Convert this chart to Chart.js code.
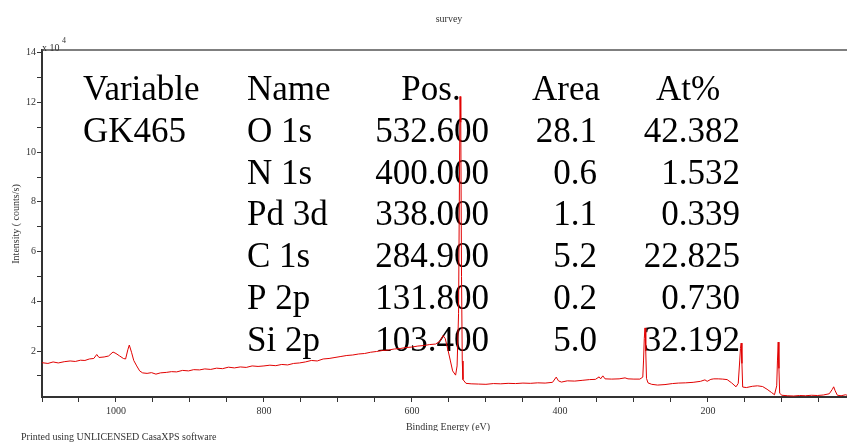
<!DOCTYPE html>
<html>
<head>
<meta charset="utf-8">
<script src="https://cdn.jsdelivr.net/npm/chart.js@4"></script>
<style>
  body { margin: 0; background: #fff; }
  #wrap { width: 847px; height: 446px; }
</style>
</head>
<body>
<div id="wrap"><canvas id="myChart" width="847" height="446"></canvas></div>
<script>
// survey spectrum, binding energy (eV) vs intensity (x 10^4 counts/s)
const energia = [1100,1092,1085,1078,1070,1062,1055,1048,1042,1036,1030,1026,1023,1016,1010,1004,1000,995,990,987,
  984,982,979,976,972,968,964,958,952,946,940,932,925,918,910,902,895,887,880,872,
  864,856,848,840,832,824,816,808,800,792,784,776,768,760,752,744,736,728,720,712,
  704,696,688,680,672,664,656,648,640,632,624,616,608,600,592,584,576,568,562,558,
  555,551,548,545,541,539,537,536,535,534,533,532,531,527,520,510,500,490,480,470,
  460,450,440,430,420,410,405,402,398,390,380,370,360,352,347,345,342,339,330,320,
  312,308,300,292,288,287,286,285,284,283,281,276,268,258,248,240,230,220,210,204,
  201,196,192,186,180,174,168,162,159,157,156,155,154,153,148,140,133,126,120,114,
  110,107,106,105,104,103,100,92,84,76,68,60,52,44,36,32,30,28,25,20,14,12];
const intensidad = [1.53,1.50,1.56,1.52,1.57,1.60,1.58,1.63,1.62,1.68,1.70,1.86,1.74,1.76,1.80,1.96,1.90,1.80,1.70,1.68,
  2.05,2.24,1.95,1.62,1.40,1.20,1.12,1.10,1.13,1.07,1.12,1.14,1.17,1.16,1.22,1.20,1.25,1.24,1.28,1.26,
  1.31,1.29,1.35,1.32,1.36,1.34,1.40,1.38,1.40,1.43,1.41,1.46,1.44,1.50,1.52,1.56,1.62,1.60,1.68,1.70,
  1.74,1.78,1.82,1.84,1.88,1.90,1.95,1.98,2.02,2.04,2.08,2.10,2.14,2.16,2.20,2.22,2.26,2.28,2.40,2.62,
  2.50,2.00,1.60,1.20,1.03,1.40,3.50,8.00,12.24,11.20,5.00,1.60,0.85,0.70,0.68,0.67,0.66,0.69,0.68,0.70,
  0.69,0.71,0.70,0.72,0.71,0.74,0.95,0.80,0.75,0.80,0.79,0.82,0.85,0.86,0.96,0.88,1.00,0.88,0.87,0.88,
  0.92,0.88,0.87,0.87,0.95,1.60,2.50,2.93,2.00,0.90,0.72,0.66,0.63,0.65,0.69,0.71,0.72,0.74,0.78,0.84,
  0.78,0.86,0.88,0.88,0.87,0.85,0.72,0.56,0.70,1.60,2.10,2.32,1.50,0.55,0.53,0.58,0.60,0.57,0.46,0.33,
  0.24,0.60,1.60,2.36,1.30,0.30,0.22,0.20,0.19,0.21,0.20,0.22,0.21,0.23,0.28,0.45,0.56,0.40,0.22,0.20,0.24,0.22];

const xTicks = [1100,1050,1000,950,900,850,800,750,700,650,600,550,500,450,400,350,300,250,200,150,100,50];
const yTicks = [1,2,3,4,5,6,7,8,9,10,11,12,13,14];

// tabla de cuantificacion
const nombres = ["O 1s", "N 1s", "Pd 3d", "C 1s", "P 2p", "Si 2p"];
const posiciones = ["532.600", "400.000", "338.000", "284.900", "131.800", "103.400"];
const areas = ["28.1", "0.6", "1.1", "5.2", "0.2", "5.0"];
const atomico = ["42.382", "1.532", "0.339", "22.825", "0.730", "32.192"];

const serif = "'Liberation Serif', 'Times New Roman', serif";

const textos = {
  id: 'textos',
  beforeDatasetsDraw(chart) {
    const ctx = chart.ctx;
    ctx.save();
    ctx.fillStyle = '#000';
    ctx.font = '35px ' + serif;
    ctx.textBaseline = 'alphabetic';
    let base = 100;
    const paso = 41.8;
    ctx.textAlign = 'left';
    ctx.fillText('Variable', 83, base);
    ctx.fillText('Name', 247, base);
    ctx.textAlign = 'center';
    ctx.fillText('Pos.', 431, base);
    ctx.fillText('Area', 566, base);
    ctx.fillText('At%', 688, base);
    ctx.textAlign = 'left';
    ctx.fillText('GK465', 83, base + paso);
    nombres.forEach((n, i) => {
      let y = base + paso * (i + 1);
      ctx.textAlign = 'left';
      ctx.fillText(n, 247, y);
      ctx.textAlign = 'right';
      ctx.fillText(posiciones[i], 489, y);
      ctx.fillText(areas[i], 597, y);
      ctx.fillText(atomico[i], 740, y);
    });
    ctx.restore();
  },
  afterDraw(chart) {
    const ctx = chart.ctx;
    const area = chart.chartArea;
    ctx.save();
    // borde superior
    ctx.strokeStyle = '#555';
    ctx.lineWidth = 1.5;
    ctx.beginPath();
    ctx.moveTo(area.left, area.top);
    ctx.lineTo(847, area.top);
    ctx.stroke();

    ctx.fillStyle = '#333';
    ctx.font = '10px ' + serif;
    ctx.textBaseline = 'middle';
    ctx.textAlign = 'center';
    ctx.fillText('survey', 449, 19);
    ctx.textAlign = 'left';
    ctx.fillText('x 10', 42, 48);
    ctx.font = '8px ' + serif;
    ctx.fillText('4', 62, 41);

    ctx.font = '10px ' + serif;
    ctx.fillText('Printed using UNLICENSED CasaXPS software', 21, 437);

    // titulo eje x (recortado como en el original)
    ctx.save();
    ctx.beginPath();
    ctx.rect(0, 418, 847, 13);
    ctx.clip();
    ctx.textAlign = 'center';
    ctx.fillText('Binding Energy (eV)', 448, 427);
    ctx.restore();

    ctx.translate(16, 224);
    ctx.rotate(-Math.PI / 2);
    ctx.textAlign = 'center';
    ctx.fillText('Intensity ( counts/s)', 0, 0);
    ctx.restore();
  }
};

const puntos = energia.map((e, i) => ({ x: e, y: intensidad[i] }));

let config = {
  type: 'line',
  data: {
    datasets: [{
      label: 'survey',
      data: puntos,
      borderColor: 'rgb(225, 0, 0)',
      borderWidth: 1,
      pointRadius: 0,
      tension: 0,
      fill: false
    }]
  },
  options: {
    responsive: false,
    animation: false,
    layout: { padding: { top: 50, right: 0, bottom: 0, left: 0 } },
    plugins: {
      legend: { display: false },
      tooltip: { enabled: false },
      title: { display: false }
    },
    scales: {
      x: {
        type: 'linear',
        reverse: true,
        min: 12,
        max: 1100,
        afterFit: s => { s.height = 49; },
        afterBuildTicks: s => { s.ticks = xTicks.map(v => ({ value: v })); },
        ticks: {
          autoSkip: false,
          maxRotation: 0,
          padding: 3,
          color: '#333',
          font: { family: serif, size: 10 },
          callback: v => (v % 200 === 0 ? String(v) : '')
        },
        grid: { drawOnChartArea: false, drawTicks: true, tickLength: 5, color: '#333' },
        border: { color: '#333', width: 2 }
      },
      y: {
        type: 'linear',
        min: 0.15,
        max: 14.11,
        afterFit: s => { s.width = 42; },
        afterBuildTicks: s => { s.ticks = yTicks.map(v => ({ value: v })); },
        ticks: {
          autoSkip: false,
          padding: 1,
          color: '#333',
          font: { family: serif, size: 10 },
          callback: v => (v % 2 === 0 ? String(v) : '')
        },
        grid: { drawOnChartArea: false, drawTicks: true, tickLength: 5, color: '#333' },
        border: { color: '#333', width: 2 }
      }
    }
  },
  plugins: [textos]
};

var myChart = new Chart(document.getElementById('myChart'), config);
</script>
</body>
</html>
